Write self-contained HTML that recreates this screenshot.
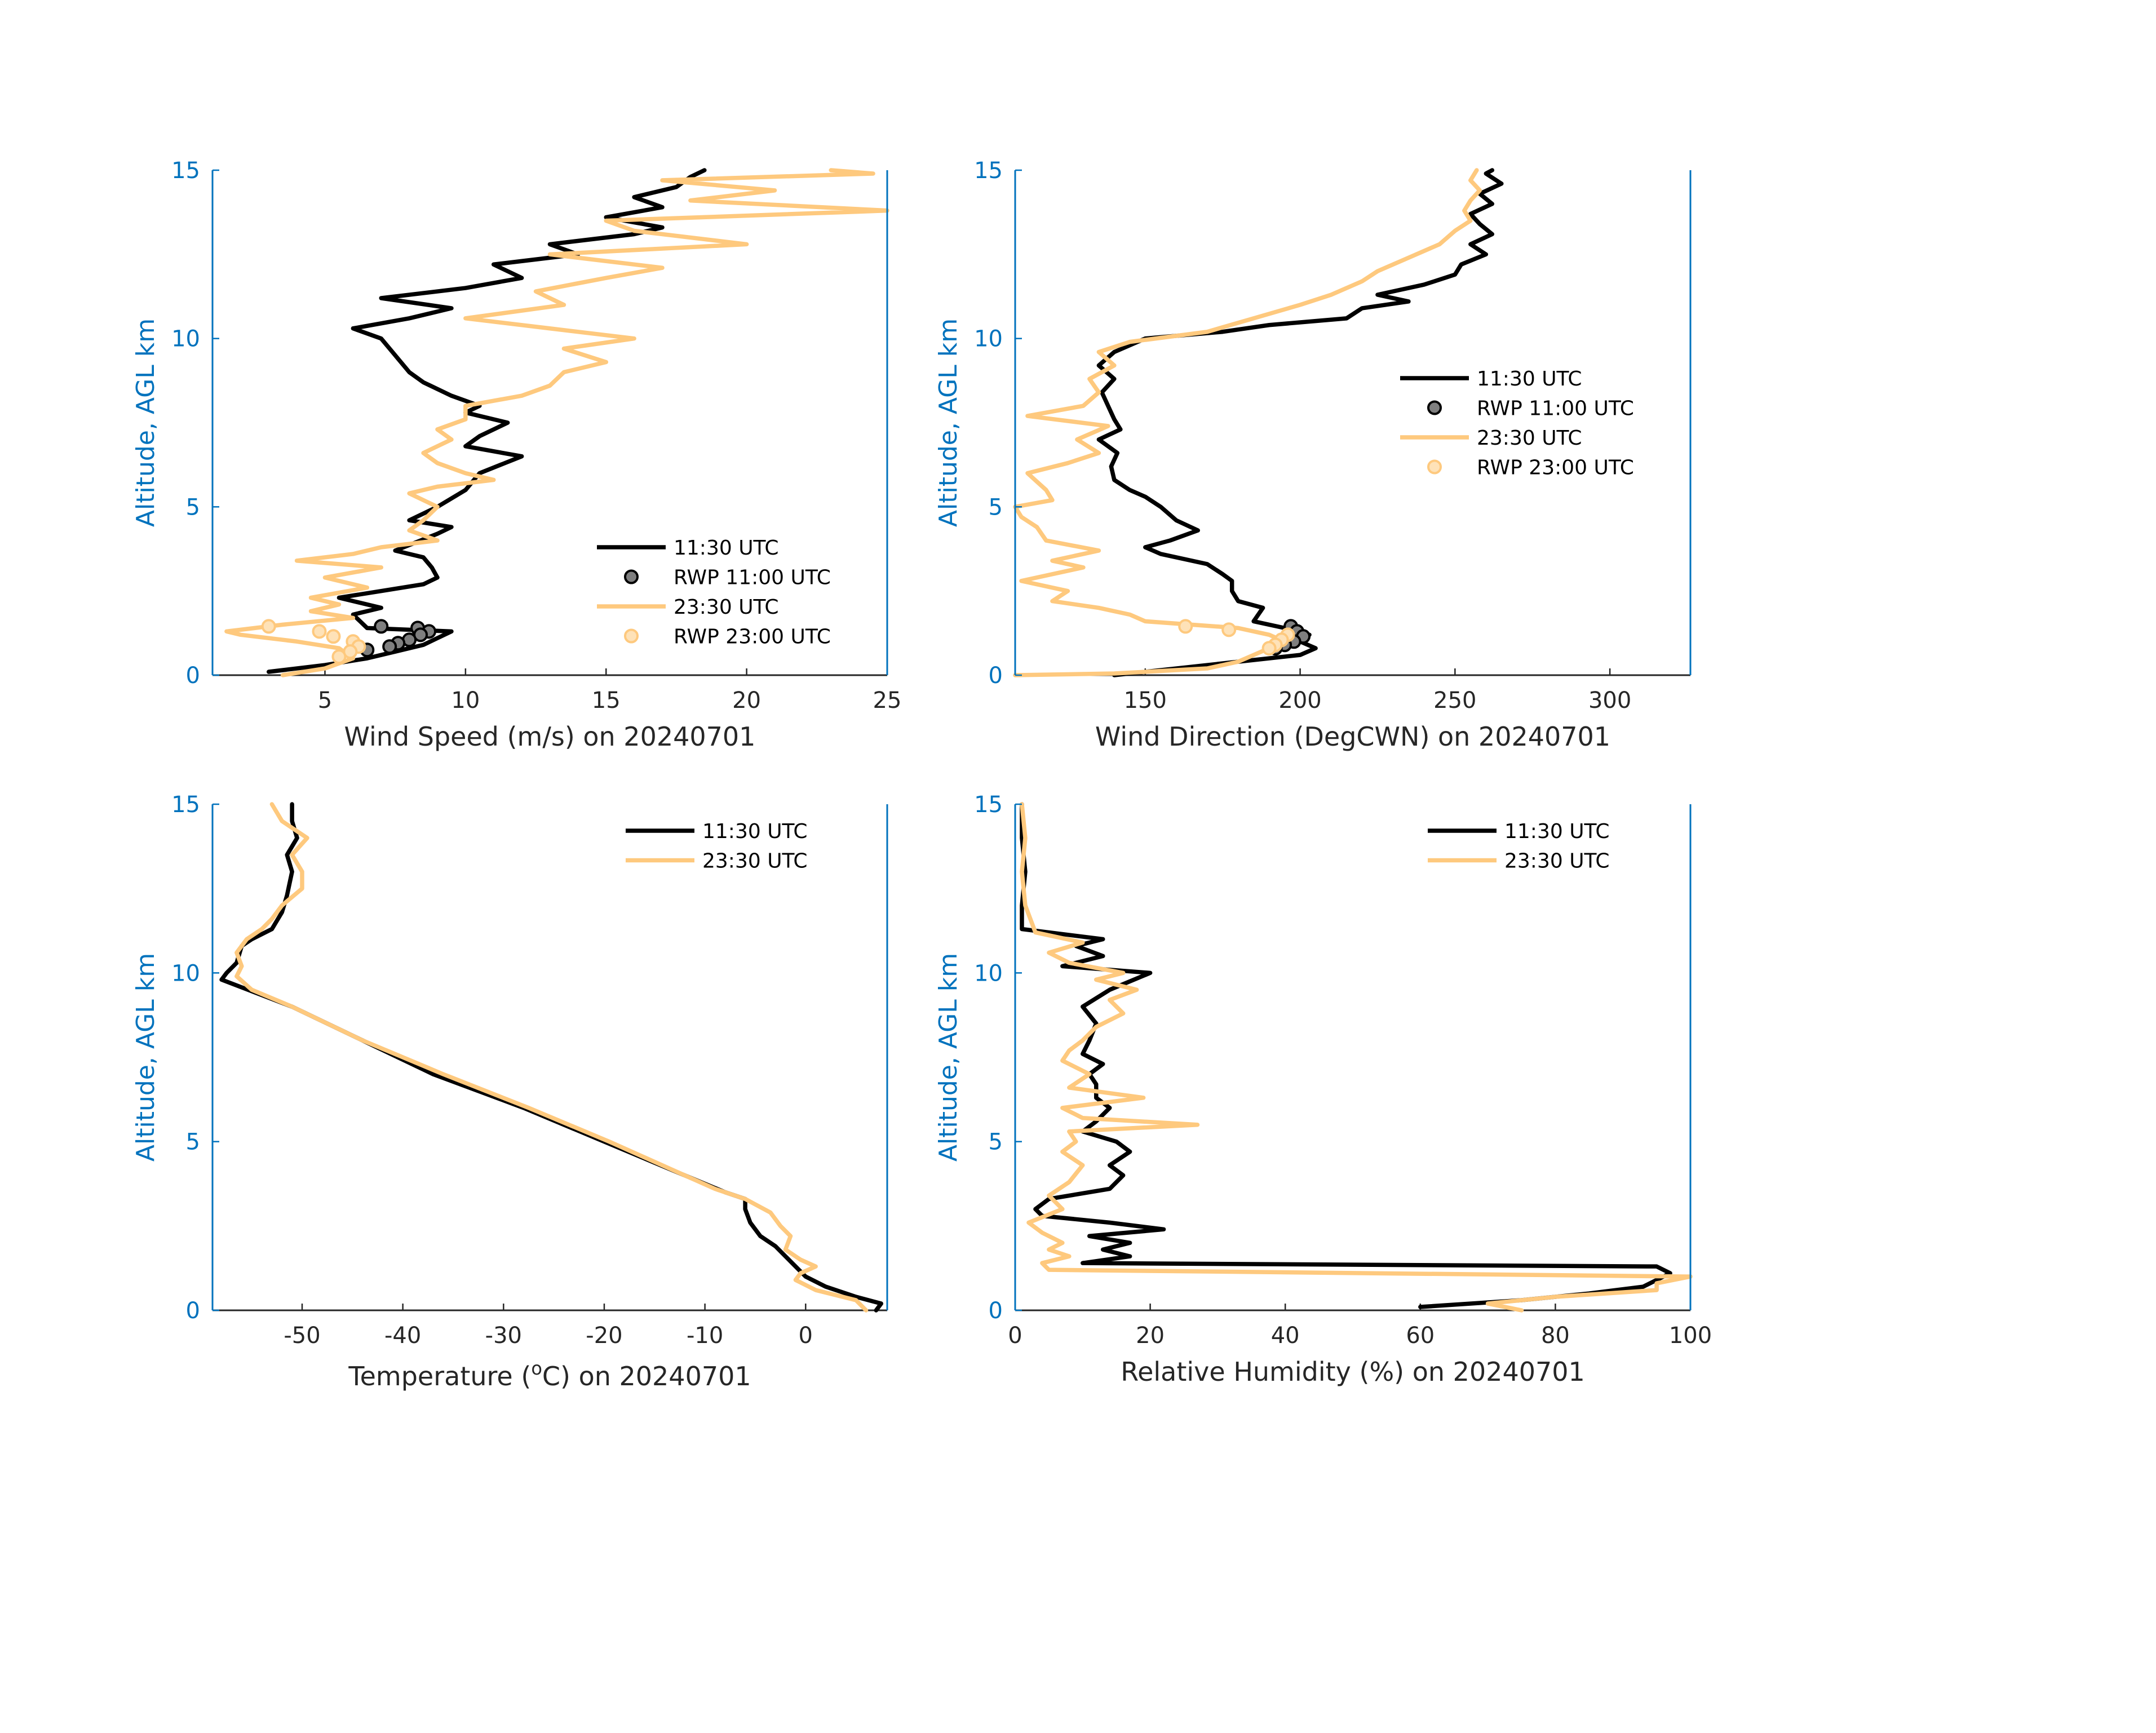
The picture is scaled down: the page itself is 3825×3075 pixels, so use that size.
<!DOCTYPE html>
<html><head><meta charset="utf-8"><style>html,body{margin:0;padding:0;background:#fff}svg{display:block}</style></head>
<body>
<svg id="fig" xmlns="http://www.w3.org/2000/svg" width="3825" height="3075" viewBox="0 0 3825 3075" font-family="'DejaVu Sans', 'Liberation Sans', sans-serif"></svg>
<script>
// ---- data ----
const spdAlt1 = [0.1,0.3,0.5,0.7,0.9,1.1,1.3,1.4,1.8,2.0,2.3,2.5,2.7,2.9,3.2,3.5,3.7,4.2,4.4,4.6,5.0,5.5,6.0,6.5,6.8,7.1,7.5,7.8,8.0,8.3,8.7,9.0,9.5,10.0,10.3,10.6,10.9,11.2,11.5,11.8,12.2,12.5,12.8,13.1,13.3,13.6,13.9,14.2,14.5,14.8,15];
const spdVal1 = [3,5,6.5,7.5,8.5,9,9.5,6.5,6,7,5.5,7,8.5,9,8.8,8.5,7.5,9,9.5,8,9,10,10.5,12,10,10.5,11.5,10,10.5,9.5,8.5,8,7.5,7,6,8,9.5,7,10,12,11,14,13,16,17,15,17,16,17.5,18,18.5];
const spdAlt2 = [0,0.2,0.5,0.8,1.0,1.2,1.3,1.5,1.7,1.9,2.1,2.3,2.6,2.9,3.2,3.4,3.6,3.8,4.0,4.3,4.6,5.0,5.4,5.6,5.8,6.0,6.3,6.6,7.0,7.3,7.6,8.0,8.3,8.6,9.0,9.3,9.7,10.0,10.3,10.6,11.0,11.4,11.8,12.1,12.5,12.8,13.2,13.5,13.8,14.1,14.4,14.7,14.9,15];
const spdVal2 = [3.5,5,6,5.5,4,2,1.5,3.5,6,4.5,5.5,4.5,6.5,5,7,4,6,7,9,8,8.5,9,8,9,11,10,9,8.5,9.5,9,10,10,12,13,13.5,15,13.5,16,13,10,13.5,12.5,15,17,13,20,16,15,25,18,21,17,24.5,23];
const rwpSpd1 = [7,8.3,8.7,8.4,8,7.6,7.3,6.5];
const rwpSpdAlt1 = [1.45,1.4,1.3,1.2,1.05,0.95,0.85,0.75];
const rwpSpd2 = [3,4.8,5.3,6,6.2,5.9,5.5];
const rwpSpdAlt2 = [1.45,1.3,1.15,1.0,0.85,0.7,0.55];

const dirAlt1 = [0,0.2,0.4,0.6,0.8,1.0,1.2,1.4,1.6,2.0,2.2,2.5,2.8,3.0,3.3,3.6,3.8,4.0,4.3,4.6,5.0,5.3,5.5,5.8,6.2,6.6,7.0,7.3,7.6,8.0,8.4,8.8,9.2,9.6,10.0,10.2,10.4,10.6,10.9,11.1,11.3,11.6,11.9,12.2,12.5,12.8,13.1,13.4,13.7,14.0,14.3,14.6,14.9,15];
const dirVal1 = [140,160,180,200,205,200,203,195,185,188,180,178,178,175,170,155,150,158,167,160,155,150,145,140,139,141,135,142,140,138,136,140,135,140,150,175,190,215,220,235,225,240,250,252,260,255,262,258,255,262,258,265,260,262];
const dirAlt2 = [0,0.05,0.2,0.4,0.6,0.8,1.0,1.2,1.4,1.6,1.8,2.0,2.2,2.5,2.8,3.2,3.4,3.7,4.0,4.4,4.7,5.0,5.2,5.5,6.0,6.3,6.6,7.0,7.4,7.7,8.0,8.4,8.8,9.2,9.6,9.9,10.2,10.6,11.0,11.3,11.7,12.0,12.4,12.8,13.2,13.5,13.8,14.1,14.4,14.7,15];
const dirVal2 = [108,140,170,180,185,190,195,190,180,150,145,135,120,125,110,130,120,135,118,115,110,108,120,118,112,125,135,128,138,112,130,135,132,140,135,145,170,185,200,210,220,225,235,245,250,255,253,255,258,255,257];
const rwpDir1 = [197,199,201,198,195,192];
const rwpDirAlt1 = [1.45,1.3,1.15,1.0,0.9,0.8];
const rwpDir2 = [163,177,196,194,192,190];
const rwpDirAlt2 = [1.45,1.35,1.2,1.05,0.9,0.8];

const tAlt1 = [0,0.2,0.4,0.7,1.0,1.3,1.6,1.9,2.2,2.6,3.0,3.3,3.5,4.0,5.0,6.0,7.0,8.0,9.0,9.8,10.0,10.3,10.8,11.0,11.3,11.8,12.3,13.0,13.5,14.0,14.5,15];
const tVal1 = [7,7.5,5,2,0,-1,-2,-3,-4.5,-5.5,-6,-6,-8,-12,-20,-28,-37,-44,-51,-58,-57.5,-56.5,-56,-55,-53,-52,-51.5,-51,-51.5,-50.5,-51,-51];
const tAlt2 = [0,0.3,0.6,0.9,1.1,1.3,1.5,1.8,2.2,2.5,2.9,3.3,3.6,4.0,5.0,6.0,7.0,8.0,9.0,9.5,9.9,10.2,10.6,11.0,11.3,11.6,12.0,12.5,13.0,13.5,14.0,14.5,15];
const tVal2 = [6,5,1,-1,-0.5,1,-0.5,-2,-1.5,-2.5,-3.5,-6,-9,-12,-19.5,-27.5,-36,-44,-51,-55,-56.5,-56,-56.5,-55.5,-54,-53,-52,-50,-50,-51,-49.5,-52,-53];

const rhAlt1 = [0.1,0.3,0.5,0.7,0.9,1.1,1.3,1.4,1.6,1.8,2.0,2.2,2.4,2.6,2.8,3.0,3.3,3.6,4.0,4.3,4.7,5.0,5.3,5.6,6.0,6.3,6.7,7.0,7.3,7.6,8.0,8.5,9.0,9.5,10.0,10.2,10.5,10.8,11.0,11.3,12,13,14,15];
const rhVal1 = [60,75,85,93,95,97,95,10,17,13,17,11,22,14,4,3,5,14,16,14,17,15,10,12,14,12,12,11,13,10,11,12,10,14,20,7,13,9,13,1,1,1.5,1,1];
const rhAlt2 = [0,0.2,0.4,0.6,0.8,1.0,1.2,1.4,1.6,1.8,2.0,2.3,2.6,3.0,3.4,3.8,4.3,4.7,5.0,5.3,5.5,5.7,6.0,6.3,6.6,7.0,7.4,7.7,8.0,8.4,8.8,9.2,9.5,9.8,10.0,10.3,10.6,10.9,11.2,12,13,14,15];
const rhVal2 = [75,70,80,95,95,100,5,4,8,5,7,4,2,7,5,8,10,7,9,8,27,10,7,19,8,11,7,8,10,12,16,14,18,12,16,8,5,10,3,1.5,1,1.5,1];

const spdTicks = [5,10,15,20,25];
const dirTicks = [150,200,250,300];
const tTicks = [-50,-40,-30,-20,-10,0];
const rhTicks = [0,20,40,60,80,100];
const altTicks = [0,5,10,15];

// ---- drawing ----
const NS='http://www.w3.org/2000/svg';
const svg=document.getElementById('fig');
const BLUE='#0072BD', ORG='#FEC97E', TXT='#262626';
function mk(tag,attrs,parent){const e=document.createElementNS(NS,tag);for(const k in attrs)e.setAttribute(k,attrs[k]);(parent||svg).appendChild(e);return e;}

function panel(name,x0,y0,x1,y1,xmin,xmax,xticks,xlabelNodes,lines,markers,legend,titleDy){
  const g=mk('g',{});
  
  
  const sx=v=>x0+(v-xmin)/(xmax-xmin)*(x1-x0);
  const sy=a=>y1-a/15*(y1-y0);
  const bx=mk('line',{x1:x0,y1:y1,x2:x1,y2:y1,stroke:'#262626','stroke-width':3},g);
  
  xticks.forEach(t=>{
    mk('line',{x1:sx(t),y1:y1,x2:sx(t),y2:y1-12,stroke:'#262626','stroke-width':2.5},g);
    const tl=mk('text',{x:sx(t),y:y1+58,'font-size':40,fill:TXT,'text-anchor':'middle'},g);
    tl.textContent=String(t);
    
  });
  lines.forEach(s=>{
    const p=mk('polyline',{points:s.v.map((v,i)=>sx(v)+','+sy(s.a[i])).join(' '),fill:'none',stroke:s.c,'stroke-width':7.5,'stroke-linejoin':'round','stroke-linecap':'round'},g);
    
  });
  markers.forEach(s=>{
    s.v.forEach((v,i)=>{
      const c=mk('circle',{cx:sx(v),cy:sy(s.a[i]),r:11,fill:s.f,stroke:s.c,'stroke-width':4},g);
      
    });
  });
  const la=mk('line',{x1:x0,y1:y0,x2:x0,y2:y1,stroke:BLUE,'stroke-width':3},g);
  
  mk('line',{x1:x1,y1:y0,x2:x1,y2:y1,stroke:BLUE,'stroke-width':3},g);
  altTicks.forEach(t=>{
    mk('line',{x1:x0,y1:sy(t),x2:x0+12,y2:sy(t),stroke:BLUE,'stroke-width':2.5},g);
    const tl=mk('text',{x:x0-22,y:sy(t)+14,'font-size':40,fill:BLUE,'text-anchor':'end'},g);
    tl.textContent=t;
    
  });
  const yl=mk('text',{x:0,y:0,'font-size':44,fill:BLUE,'text-anchor':'middle',transform:`translate(${x0-104},${(y0+y1)/2}) rotate(-90)`},g);
  yl.textContent='Altitude, AGL km';
  
  const xl=mk('text',{x:(x0+x1)/2,y:y1+125+(titleDy||0),'font-size':46,fill:TXT,'text-anchor':'middle'},g);
  xl.innerHTML=xlabelNodes;
  
  const lg=mk('g',{},g);
  
  legend.items.forEach((it,i)=>{
    const y=legend.y+i*52.5;
    if(it.t==='line') mk('line',{x1:legend.x,y1:y,x2:legend.x+122,y2:y,stroke:it.c,'stroke-width':7.5},lg);
    else mk('circle',{cx:legend.x+61,cy:y,r:11,fill:it.f,stroke:it.c,'stroke-width':4},lg);
    const tx=mk('text',{x:legend.x+136,y:y+13,'font-size':36,fill:'#000'},lg);
    tx.textContent=it.l;
    
  });
}

const L4=(x,y)=>({x,y,items:[
  {t:'line',c:'#000',l:'11:30 UTC'},
  {t:'dot',c:'#000',f:'#7f7f7f',l:'RWP 11:00 UTC'},
  {t:'line',c:ORG,l:'23:30 UTC'},
  {t:'dot',c:ORG,f:'#FEE2B8',l:'RWP 23:00 UTC'}]});
const L2=(x,y)=>({x,y,items:[{t:'line',c:'#000',l:'11:30 UTC'},{t:'line',c:ORG,l:'23:30 UTC'}]});

panel('wind-speed-panel',377,302,1574,1198,1,25,spdTicks,'Wind Speed (m/s) on 20240701',
  [{n:'line-1130-speed',a:spdAlt1,v:spdVal1,c:'#000'},{n:'line-2330-speed',a:spdAlt2,v:spdVal2,c:ORG}],
  [{n:'rwp-1100-point',a:rwpSpdAlt1,v:rwpSpd1,c:'#000',f:'#7f7f7f'},{n:'rwp-2300-point',a:rwpSpdAlt2,v:rwpSpd2,c:ORG,f:'#FEE2B8'}],
  L4(1059,971));
panel('wind-direction-panel',1801,302,2999,1198,108,326,dirTicks,'Wind Direction (DegCWN) on 20240701',
  [{n:'line-1130-direction',a:dirAlt1,v:dirVal1,c:'#000'},{n:'line-2330-direction',a:dirAlt2,v:dirVal2,c:ORG}],
  [{n:'rwp-1100-point',a:rwpDirAlt1,v:rwpDir1,c:'#000',f:'#7f7f7f'},{n:'rwp-2300-point',a:rwpDirAlt2,v:rwpDir2,c:ORG,f:'#FEE2B8'}],
  L4(2484,671));
panel('temperature-panel',377,1427,1574,2325,-58.9,8.1,tTicks,'Temperature (<tspan baseline-shift="super" font-size="32">o</tspan>C) on 20240701',
  [{n:'line-1130-temperature',a:tAlt1,v:tVal1,c:'#000'},{n:'line-2330-temperature',a:tAlt2,v:tVal2,c:ORG}],[],
  L2(1110,1474),8);
panel('humidity-panel',1801,1427,2999,2325,0,100,rhTicks,'Relative Humidity (%) on 20240701',
  [{n:'line-1130-humidity',a:rhAlt1,v:rhVal1,c:'#000'},{n:'line-2330-humidity',a:rhAlt2,v:rhVal2,c:ORG}],[],
  L2(2533,1474));
</script>
</body></html>
